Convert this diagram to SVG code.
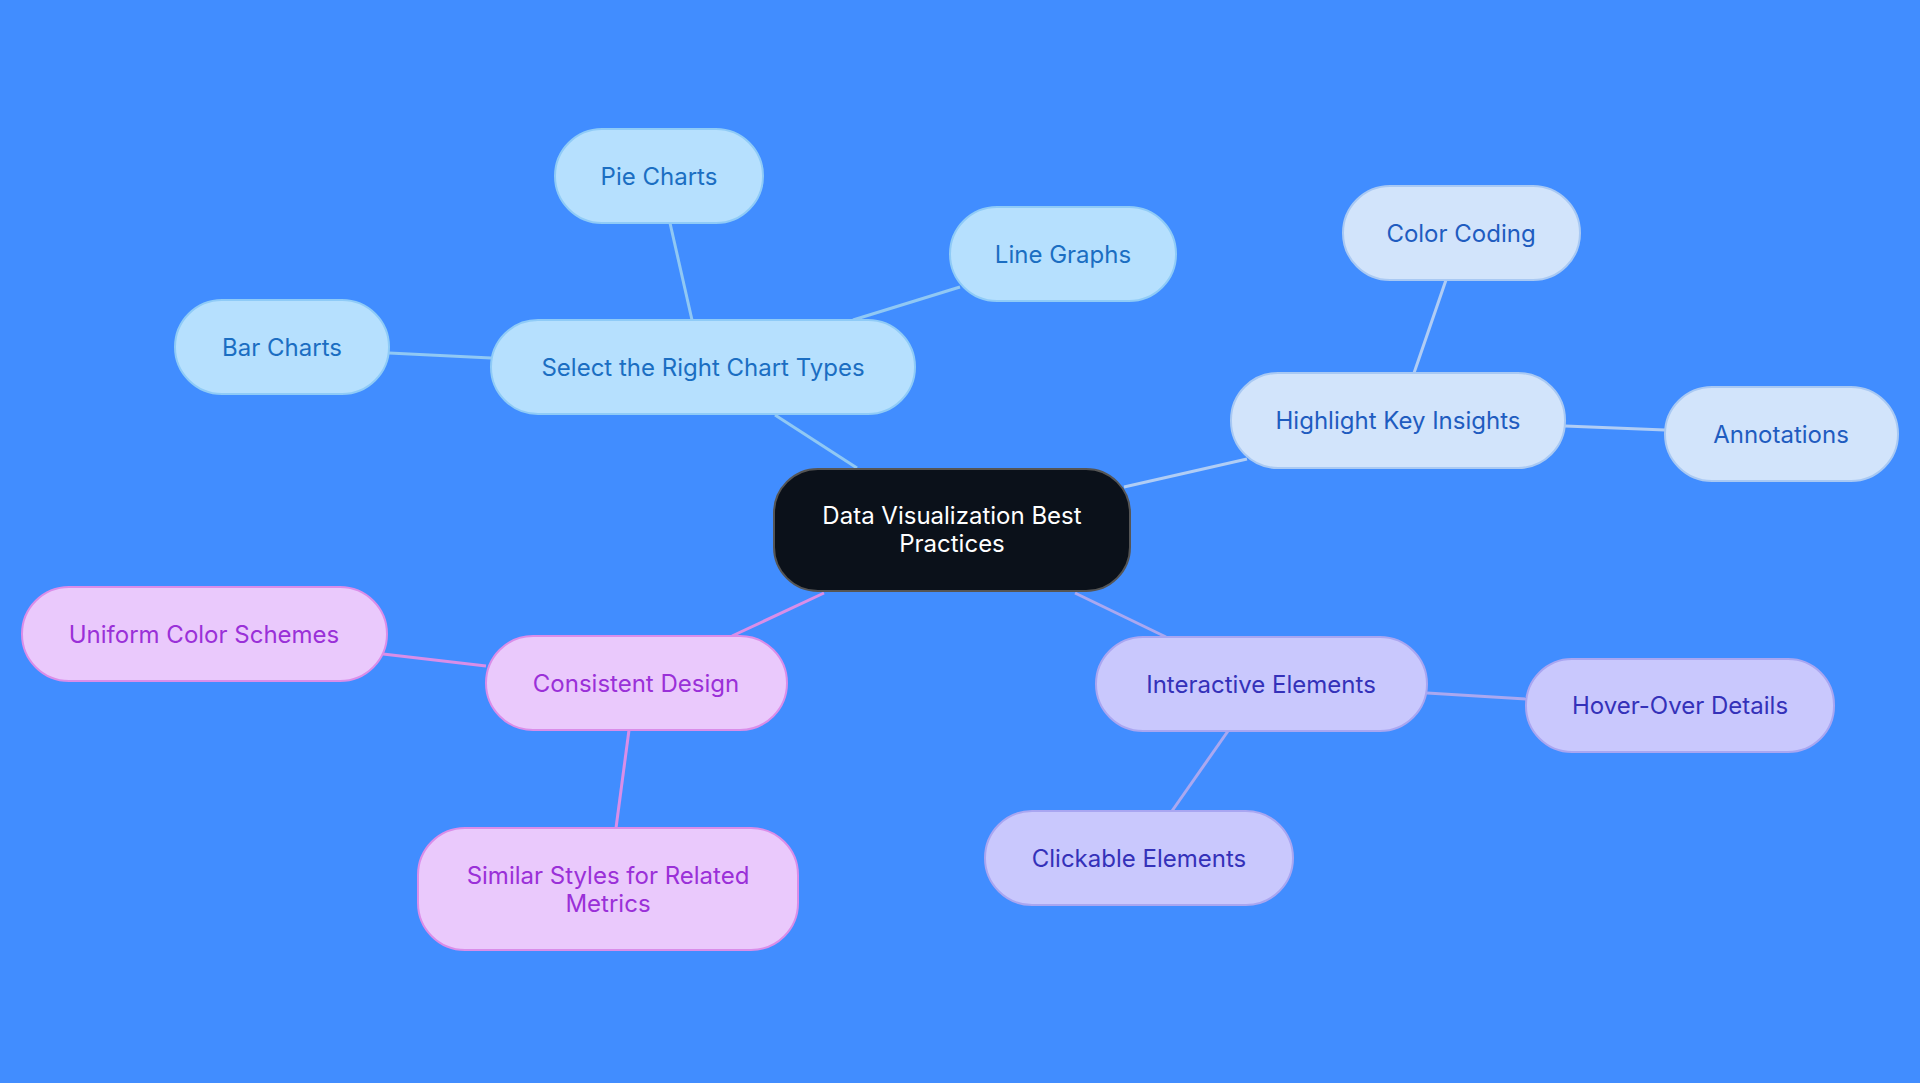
<svg xmlns="http://www.w3.org/2000/svg" width="1920" height="1083" viewBox="0 0 1920 1083">
<style>
text{font-family:Inter,"Noto Sans",sans-serif;font-size:24px;text-anchor:middle;dominant-baseline:central}
.b rect{fill:#b6e0fe;stroke:#8fcbf7;stroke-width:2}.b text{fill:#1b6ec2}
.h rect{fill:#d2e4fb;stroke:#a9c9f3;stroke-width:2}.h text{fill:#1f5cc0}
.i rect{fill:#c9c8fd;stroke:#a9a6f1;stroke-width:2}.i text{fill:#3431b9}
.p rect{fill:#eac9fc;stroke:#da8de9;stroke-width:2}.p text{fill:#9a30d8}
#edges line{stroke-width:3}
</style>
<rect width="1920" height="1083" fill="#418dff"/>
<g id="edges">
<g stroke="#90c8f4"><line x1="857" y1="468" x2="775" y2="415"/><line x1="692" y1="320" x2="670" y2="223"/><line x1="853" y1="320" x2="960" y2="287"/><line x1="491" y1="358" x2="389" y2="353"/></g>
<g stroke="#b0cdf5"><line x1="1124" y1="487" x2="1247" y2="459"/><line x1="1414" y1="373" x2="1446" y2="280"/><line x1="1565" y1="426" x2="1665" y2="430"/></g>
<g stroke="#aaa8f0"><line x1="1075" y1="593" x2="1166" y2="637"/><line x1="1427" y1="693" x2="1526" y2="699"/><line x1="1228" y1="731" x2="1172" y2="811"/></g>
<g stroke="#d98ee8"><line x1="824" y1="593" x2="732" y2="636"/><line x1="486" y1="666" x2="383" y2="654"/><line x1="629" y1="730" x2="616" y2="828"/></g>
</g>
<g id="center"><rect x="774" y="469" width="356" height="122" rx="44" fill="#0b111a" stroke="#555" stroke-width="2"/><text x="952" y="515" fill="#fff">Data Visualization Best</text><text x="952" y="543" fill="#fff">Practices</text></g>
<g id="select" class="b"><rect x="491" y="320" width="424" height="94" rx="47"/><text x="703" y="367">Select the Right Chart Types</text></g>
<g id="pie" class="b"><rect x="555" y="129" width="208" height="94" rx="47"/><text x="659" y="176">Pie Charts</text></g>
<g id="line" class="b"><rect x="950" y="207" width="226" height="94" rx="47"/><text x="1063" y="254">Line Graphs</text></g>
<g id="bar" class="b"><rect x="175" y="300" width="214" height="94" rx="47"/><text x="282" y="347">Bar Charts</text></g>
<g id="highlight" class="h"><rect x="1231" y="373" width="334" height="95" rx="47"/><text x="1398" y="420">Highlight Key Insights</text></g>
<g id="color" class="h"><rect x="1343" y="186" width="237" height="94" rx="47"/><text x="1461" y="233">Color Coding</text></g>
<g id="annot" class="h"><rect x="1665" y="387" width="233" height="94" rx="47"/><text x="1781" y="434">Annotations</text></g>
<g id="interactive" class="i"><rect x="1096" y="637" width="331" height="94" rx="47"/><text x="1261" y="684">Interactive Elements</text></g>
<g id="hover" class="i"><rect x="1526" y="659" width="308" height="93" rx="46"/><text x="1680" y="705">Hover-Over Details</text></g>
<g id="click" class="i"><rect x="985" y="811" width="308" height="94" rx="47"/><text x="1139" y="858">Clickable Elements</text></g>
<g id="consistent" class="p"><rect x="486" y="636" width="301" height="94" rx="47"/><text x="636" y="683">Consistent Design</text></g>
<g id="uniform" class="p"><rect x="22" y="587" width="365" height="94" rx="47"/><text x="204" y="634">Uniform Color Schemes</text></g>
<g id="similar" class="p"><rect x="418" y="828" width="380" height="122" rx="47"/><text x="608" y="875">Similar Styles for Related</text><text x="608" y="903">Metrics</text></g>
</svg>
